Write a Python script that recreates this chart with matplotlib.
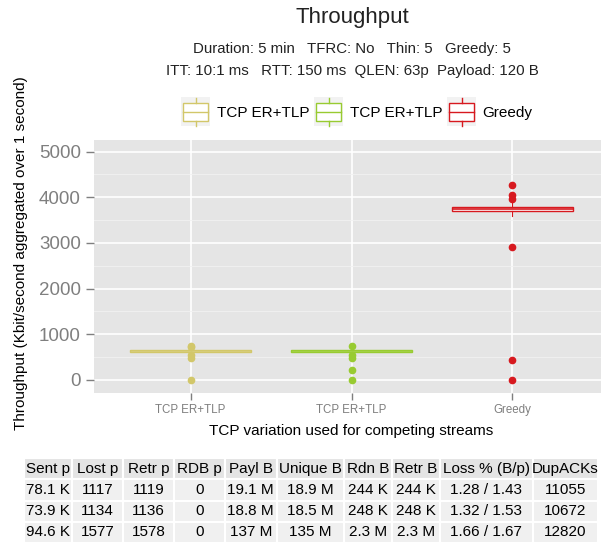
import matplotlib
matplotlib.use("Agg")
import matplotlib.pyplot as plt
from matplotlib.legend_handler import HandlerBase
from matplotlib.patches import Rectangle
from matplotlib.lines import Line2D

plt.rcParams['font.family'] = ['Liberation Sans', 'DejaVu Sans']

# ---- data ----
categories = ['TCP ER+TLP', 'TCP ER+TLP', 'Greedy']
colors = ['#d2c76a', '#98cb31', '#d7191f']

med = [640, 640, 3737]
q1 = [622, 622, 3695]
q3 = [658, 658, 3780]
whislo = [605, 605, 3595]
whishi = [675, 675, 3870]
fliers = [
    [750, 715, 550, 480, 10],
    [750, 550, 480, 220, 10],
    [4260, 4050, 3960, 2910, 440, 10],
]

title = 'Throughput'
subtitle1 = 'Duration: 5 min   TFRC: No   Thin: 5   Greedy: 5'
subtitle2 = 'ITT: 10:1 ms   RTT: 150 ms  QLEN: 63p  Payload: 120 B'

table_header = ['Sent p', 'Lost p', 'Retr p', 'RDB p', 'Payl B', 'Unique B',
                'Rdn B', 'Retr B', 'Loss % (B/p)', 'DupACKs']
table_rows = [
    ['78.1 K', '1117', '1119', '0', '19.1 M', '18.9 M', '244 K', '244 K', '1.28 / 1.43', '11055'],
    ['73.9 K', '1134', '1136', '0', '18.8 M', '18.5 M', '248 K', '248 K', '1.32 / 1.53', '10672'],
    ['94.6 K', '1577', '1578', '0', '137 M', '135 M', '2.3 M', '2.3 M', '1.66 / 1.67', '12820'],
]

W, H = 601, 549
fig = plt.figure(figsize=(W / 100, H / 100), dpi=100)

def fx(px):
    return px / W

def fy(py):
    return 1 - py / H

# panel (runs past the right edge like the original)
ax = fig.add_axes([fx(94), fy(393), fx(609 - 94), (393 - 140) / H])
ax.set_facecolor('#e5e5e5')
for s in ax.spines.values():
    s.set_visible(False)

stats = []
for i in range(3):
    stats.append(dict(med=med[i], q1=q1[i], q3=q3[i], whislo=whislo[i],
                      whishi=whishi[i], fliers=fliers[i]))

for i, st in enumerate(stats):
    c = colors[i]
    ax.bxp([st], positions=[i + 1], widths=0.75, patch_artist=True,
           showcaps=False, manage_ticks=False,
           boxprops=dict(facecolor='white', edgecolor=c, linewidth=1.0),
           medianprops=dict(color=c, linewidth=1.2),
           whiskerprops=dict(color=c, linewidth=0.8),
           flierprops=dict(marker='o', markerfacecolor=c, markeredgecolor=c,
                           markersize=4.5, linestyle='none'),
           zorder=3)

ax.set_xlim(0.4, 3.6)
ax.set_ylim(-285, 5255)
ax.set_yticks([0, 1000, 2000, 3000, 4000, 5000])
ax.set_yticks([500, 1500, 2500, 3500, 4500], minor=True)
ax.set_xticks([1, 2, 3])
ax.set_xticklabels(categories)
ax.grid(which='major', color='white', linewidth=1.2, zorder=0)
ax.grid(which='minor', axis='y', color='#f2f2f2', linewidth=0.6, zorder=0)
ax.set_axisbelow(True)
ax.tick_params(axis='y', which='major', labelsize=13.5, labelcolor='#7f7f7f',
               color='#7f7f7f', length=5.5, width=1, pad=4)
ax.tick_params(axis='x', which='major', labelsize=8.3, labelcolor='#7f7f7f',
               color='#7f7f7f', length=5, width=1, pad=3)
ax.tick_params(which='minor', length=0)

ax.set_xlabel('TCP variation used for competing streams', fontsize=11, labelpad=6)
fig.text(fx(21), fy(253), 'Throughput (Kbit/second aggregated over 1 second)',
         rotation=90, ha='center', va='center', fontsize=11)

fig.text(fx(352), fy(17), title, ha='center', va='center', fontsize=16, color='#222222')
fig.text(fx(352), fy(49), subtitle1, ha='center', va='center', fontsize=10.8, color='#222222')
fig.text(fx(352), fy(71), subtitle2, ha='center', va='center', fontsize=10.8, color='#222222')


# legend glyph: little boxplot on a grey key
class BoxHandler(HandlerBase):
    def create_artists(self, legend, orig_handle, xdescent, ydescent,
                       width, height, fontsize, trans):
        c = orig_handle.get_color()
        x0, y0 = -xdescent, -ydescent
        hh = width * 1.0
        y0 = y0 + height / 2 - hh / 2
        bg = Rectangle((x0, y0), width, hh, facecolor='#f2f2f2',
                       edgecolor='none', transform=trans)
        box = Rectangle((x0 + width * 0.07, y0 + hh * 0.2), width * 0.86, hh * 0.62,
                        facecolor='white', edgecolor=c, linewidth=1.0, transform=trans)
        mid = Line2D([x0 + width * 0.07, x0 + width * 0.93],
                     [y0 + hh * 0.51, y0 + hh * 0.51], color=c, linewidth=1.0,
                     transform=trans)
        wt = Line2D([x0 + width / 2] * 2, [y0 + hh * 0.82, y0 + hh * 0.98],
                    color=c, linewidth=1.0, transform=trans)
        wb = Line2D([x0 + width / 2] * 2, [y0 + hh * 0.02, y0 + hh * 0.2],
                    color=c, linewidth=1.0, transform=trans)
        return [bg, box, mid, wt, wb]


handles = [Line2D([], [], color=c) for c in colors]
fig.legend(handles, categories, loc='center', bbox_to_anchor=(fx(357), fy(112)),
           ncol=3, frameon=False, fontsize=11, handlelength=1.9, handleheight=1.25,
           handletextpad=0.4, columnspacing=0.35,
           handler_map={Line2D: BoxHandler()})

# stats table
bounds = [24, 72, 123, 174, 225, 276.5, 344, 391.5, 440, 532.5, 598]
total = bounds[-1] - bounds[0]
col_w = [(bounds[i + 1] - bounds[i]) / total for i in range(len(bounds) - 1)]
tax = fig.add_axes([fx(24), fy(543), total / W, (543 - 458) / H])
tax.axis('off')
tab = tax.table(cellText=table_rows, colLabels=table_header, colWidths=col_w,
                cellLoc='center', bbox=[0, 0, 1, 1])
tab.auto_set_font_size(False)
tab.set_fontsize(11)
for (r, cidx), cell in tab.get_celld().items():
    cell.set_edgecolor('white')
    cell.set_linewidth(1.5)
    cell.set_facecolor('#e4e4e4' if r == 0 else '#f0f0f0')
    cell.PAD = 0.02

fig.savefig('out.png', dpi=100)
